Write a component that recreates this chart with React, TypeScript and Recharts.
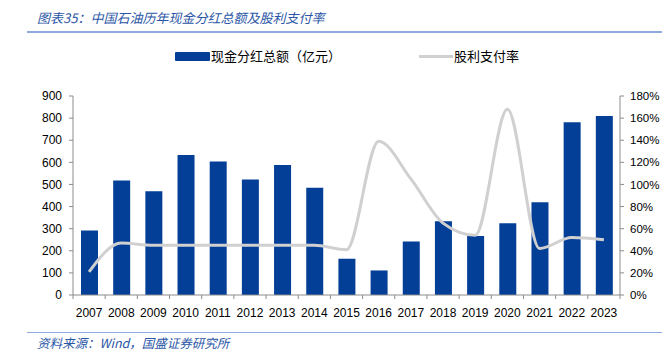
import { ComposedChart, Bar, Line, XAxis, YAxis, Legend } from "recharts";

const years = ["2007", "2008", "2009", "2010", "2011", "2012", "2013", "2014", "2015", "2016", "2017", "2018", "2019", "2020", "2021", "2022", "2023"];
const dividends = [292, 518, 469, 633, 604, 522, 588, 485, 164, 111, 242, 333, 267, 325, 419, 781, 810];
const payoutRatio = [0.21, 0.47, 0.45, 0.45, 0.45, 0.45, 0.45, 0.45, 0.41, 1.39, 1.05, 0.65, 0.54, 1.68, 0.42, 0.52, 0.5];
const leftTicks = [0, 100, 200, 300, 400, 500, 600, 700, 800, 900];
const rightTicks = [0, 0.2, 0.4, 0.6, 0.8, 1.0, 1.2, 1.4, 1.6, 1.8];

const data = years.map((y, i) => ({ year: y, dividend: dividends[i], ratio: payoutRatio[i] }));

const BAR = "#033F97";
const LINE = "#D0D0D0";
const AXIS = "#8C8C8C";
const TITLE = "#2A56A6";
const NUM_FONT = "'Liberation Sans'";
const band = 547 / years.length;

const YearTick = (props: any) => {
  const { x, y, payload, index } = props;
  return (
    <g>
      <line x1={x - band / 2} y1={y - 8} x2={x - band / 2} y2={y - 4} stroke={AXIS} />
      {index === years.length - 1 && (
        <line x1={x + band / 2} y1={y - 8} x2={x + band / 2} y2={y - 4} stroke={AXIS} />
      )}
      <text x={x} y={y + 14} textAnchor="middle" fontSize={12} fill="#000" fontFamily={NUM_FONT}>
        {payload.value}
      </text>
    </g>
  );
};

const renderLegend = () => (
  <div style={{ position: "relative", height: 20, fontFamily: "'Noto Sans CJK SC'", fontSize: 13 }}>
    <div style={{ position: "absolute", left: 175, top: 6, width: 35, height: 9, background: BAR, borderRadius: 1 }} />
    <div style={{ position: "absolute", left: 211, top: 0, lineHeight: "20px" }}>现金分红总额（亿元）</div>
    <div style={{ position: "absolute", left: 419, top: 9, width: 34, height: 3, background: LINE }} />
    <div style={{ position: "absolute", left: 454, top: 0, lineHeight: "20px" }}>股利支付率</div>
  </div>
);

export default function App() {
  return (
    <div style={{ position: "absolute", left: 0, top: 0, width: 662, height: 355, background: "#fff", overflow: "hidden" }}>
      <div
        style={{
          position: "absolute",
          left: 37,
          top: 9,
          fontFamily: "'Noto Sans CJK SC'",
          fontStyle: "italic",
          fontSize: 13,
          lineHeight: "18px",
          color: TITLE,
          whiteSpace: "nowrap",
        }}
      >
        图表35：中国石油历年现金分红总额及股利支付率
      </div>
      <div style={{ position: "absolute", left: 27, top: 31, width: 635, height: 2, background: "#8FAADC" }} />

      <ComposedChart
        width={662}
        height={355}
        data={data}
        margin={{ top: 76, right: 0, bottom: 30, left: 13 }}
        style={{ position: "absolute", left: 0, top: 0 }}
      >
        <XAxis
          dataKey="year"
          height={30}
          stroke={AXIS}
          tickLine={false}
          tick={<YearTick />}
          interval={0}
        />
        <YAxis
          yAxisId="left"
          width={60}
          domain={[0, 900]}
          ticks={leftTicks}
          stroke={AXIS}
          tickSize={4}
          tickMargin={7}
          tick={{ fontSize: 12, fill: "#000", fontFamily: NUM_FONT }}
        />
        <YAxis
          yAxisId="right"
          orientation="right"
          width={42}
          domain={[0, 1.8]}
          ticks={rightTicks}
          stroke={AXIS}
          tickSize={4}
          tickMargin={6}
          tickFormatter={(v: number) => `${Math.round(v * 100)}%`}
          tick={{ fontSize: 11.5, fill: "#000", fontFamily: NUM_FONT, textAnchor: "start" }}
        />
        <Legend verticalAlign="top" content={renderLegend} wrapperStyle={{ top: 46, left: 0, width: 662 }} />
        <Bar yAxisId="left" dataKey="dividend" fill={BAR} barSize={17} isAnimationActive={false} />
        <Line
          yAxisId="right"
          type="monotone"
          dataKey="ratio"
          stroke={LINE}
          strokeWidth={3}
          dot={false}
          isAnimationActive={false}
        />
      </ComposedChart>

      <div style={{ position: "absolute", left: 27, top: 332, width: 635, height: 1, background: "#8FAADC" }} />
      <div
        style={{
          position: "absolute",
          left: 37,
          top: 335,
          fontFamily: "'Noto Sans CJK SC'",
          fontStyle: "italic",
          fontSize: 12.5,
          lineHeight: "16px",
          color: TITLE,
          whiteSpace: "nowrap",
        }}
      >
        资料来源：Wind，国盛证券研究所
      </div>
    </div>
  );
}
